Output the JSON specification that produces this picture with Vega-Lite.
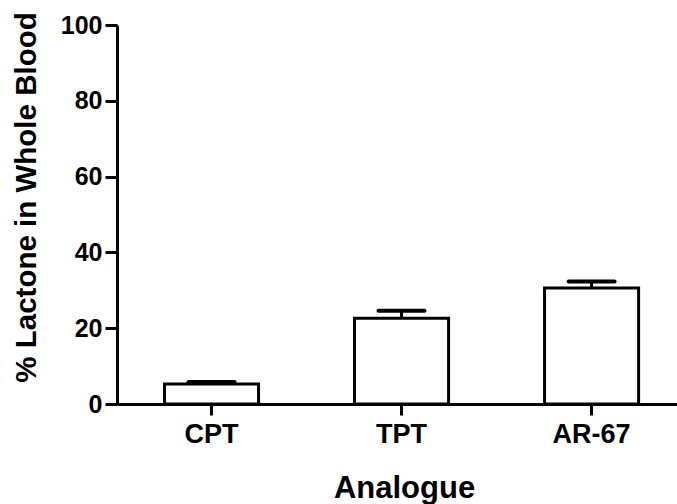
{
  "$schema": "https://vega.github.io/schema/vega-lite/v6.json",
  "autosize": {"type": "none"},
  "padding": {"left": 117, "top": 25, "right": 0, "bottom": 100},
  "width": 560,
  "height": 379,
  "background": "white",
  "config": {
    "view": {"stroke": null},
    "font": "Liberation Sans",
    "axis": {
      "domainColor": "black",
      "domainWidth": 3,
      "tickColor": "black",
      "tickWidth": 3,
      "grid": false,
      "labelFont": "Liberation Sans",
      "labelFontWeight": "bold",
      "labelColor": "black",
      "titleFont": "Liberation Sans",
      "titleFontWeight": "bold",
      "titleColor": "black"
    }
  },
  "data": {
    "values": [
      {"analogue": "CPT", "mean": 5.3, "upper": 5.8},
      {"analogue": "TPT", "mean": 22.6, "upper": 24.6},
      {"analogue": "AR-67", "mean": 30.6, "upper": 32.3}
    ]
  },
  "encoding": {
    "x": {
      "field": "analogue",
      "type": "nominal",
      "sort": ["CPT", "TPT", "AR-67"],
      "scale": {"type": "band", "paddingInner": 0.505, "paddingOuter": 0.226, "align": 0.553},
      "axis": {
        "title": "Analogue",
        "labelAngle": 0,
        "labelFontSize": 27,
        "labelBaseline": "alphabetic",
        "labelPadding": 27,
        "tickSize": 11,
        "titleFontSize": 31,
        "titleBaseline": "alphabetic",
        "titleAnchor": "middle",
        "titleX": 287,
        "titleY": 93,
        "titlePadding": 0
      }
    }
  },
  "layer": [
    {
      "mark": {"type": "bar", "fill": "white", "stroke": "black", "strokeWidth": 3},
      "encoding": {
        "y": {
          "field": "mean",
          "type": "quantitative",
          "scale": {"domain": [0, 100], "nice": false},
          "axis": {
            "title": "% Lactone in Whole Blood",
            "values": [0, 20, 40, 60, 80, 100],
            "labelFontSize": 25,
            "labelPadding": 3,
            "tickSize": 12,
            "titleFontSize": 29.5,
            "titleAngle": -90,
            "titleAlign": "center",
            "titleBaseline": "alphabetic",
            "titleX": -82,
            "titleY": 172
          }
        }
      }
    },
    {
      "mark": {"type": "rule", "stroke": "black", "strokeWidth": 3},
      "encoding": {
        "y": {"field": "mean", "type": "quantitative"},
        "y2": {"field": "upper"}
      }
    },
    {
      "mark": {"type": "tick", "color": "black", "size": 50, "thickness": 4, "cornerRadius": 2, "opacity": 1},
      "encoding": {
        "y": {"field": "upper", "type": "quantitative"}
      }
    }
  ]
}
